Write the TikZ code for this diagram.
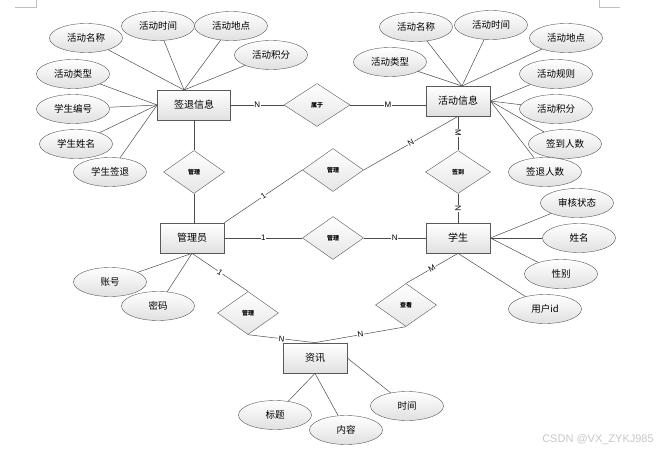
\documentclass[tikz,border=0pt]{standalone}
\usepackage{fontspec}
\newfontfamily\cjk{Noto Sans CJK SC}
\newfontfamily\wmfont{Liberation Sans}
\usetikzlibrary{shapes.geometric,shadows}

\tikzset{
  entity/.style={rectangle, draw=black!65, line width=0.7pt, top color=white, bottom color=black!12,
    minimum width=64pt, minimum height=30pt, inner sep=1pt, font=\cjk\fontsize{10}{12}\selectfont,
    drop shadow={shadow xshift=0.7pt, shadow yshift=-0.7pt, fill=black!45, opacity=0.6}},
  attr/.style={ellipse, draw=black!65, top color=white, bottom color=black!12,
    minimum width=73pt, minimum height=29pt, inner sep=0pt, font=\cjk\fontsize{9.5}{11}\selectfont},
  rel/.style={diamond, draw=black!65, top color=white, bottom color=black!10,
    minimum width=61pt, minimum height=43pt, inner sep=0pt, font=\cjk\bfseries\fontsize{6}{7}\selectfont},
  card/.style={fill=white, inner sep=0.6pt, font=\wmfont\fontsize{8}{9}\selectfont},
  conn/.style={draw=black!70, line width=0.5pt},
}

\begin{document}
\begin{tikzpicture}[x=1pt, y=-1pt]
    \useasboundingbox (0,0) rectangle (664,452);

    % Page corner marks
    \draw[black!25] (15,7) -- (36,7) -- (36,0);
    \draw[black!25] (599,0) -- (599,7) -- (620,7);

    % Entities
    \node[entity, minimum width=73pt] (qt) at (194,105) {签退信息};
    \node[entity] (hd) at (458,101) {活动信息};
    \node[entity] (gly) at (192,238) {管理员};
    \node[entity] (xs) at (458,238) {学生};
    \node[entity] (zx) at (315,358) {资讯};

    % Relations
    \node[rel, minimum width=66pt] (sy) at (317,105) {属于};
    \node[rel] (gl1) at (194,172) {管理};
    \node[rel] (gl2) at (333,170) {管理};
    \node[rel] (gl3) at (333,238) {管理};
    \node[rel] (gl4) at (248,313) {管理};
    \node[rel, minimum width=65pt] (qd) at (458,172) {签到};
    \node[rel] (ck) at (406,305) {查看};

    % Attributes of 签退信息
    \node[attr] (qt1) at (86,38) {活动名称};
    \node[attr] (qt2) at (158,26) {活动时间};
    \node[attr] (qt3) at (231,26) {活动地点};
    \node[attr] (qt4) at (271,55) {活动积分};
    \node[attr] (qt5) at (73,74) {活动类型};
    \node[attr] (qt6) at (73,109) {学生编号};
    \node[attr] (qt7) at (76,144) {学生姓名};
    \node[attr] (qt8) at (110,172) {学生签退};
    \coordinate (qtN) at (184,90);

    % Attributes of 活动信息
    \node[attr] (hd1) at (416,27) {活动名称};
    \node[attr] (hd2) at (491,25) {活动时间};
    \node[attr] (hd3) at (566,38) {活动地点};
    \node[attr] (hd4) at (390,62) {活动类型};
    \node[attr] (hd5) at (556,74) {活动规则};
    \node[attr] (hd6) at (556,109) {活动积分};
    \node[attr] (hd7) at (565,144) {签到人数};
    \node[attr] (hd8) at (545,172) {签退人数};
    \coordinate (hdN) at (462,86);

    % Attributes of 管理员, 学生 and 资讯
    \node[attr] (gly1) at (110,282) {账号};
    \node[attr] (gly2) at (158,306) {密码};
    \node[attr] (xs1) at (577,203) {审核状态};
    \node[attr] (xs2) at (579,238) {姓名};
    \node[attr] (xs3) at (561,274) {性别};
    \node[attr] (xs4) at (545,309) {用户id};
    \node[attr] (zx1) at (275,415) {标题};
    \node[attr] (zx2) at (346,430) {内容};
    \node[attr] (zx3) at (407,406) {时间};

    % Attribute lines
    \draw[conn] (qt1) -- (qtN);
    \draw[conn] (qt2) -- (qtN);
    \draw[conn] (qt3) -- (qtN);
    \draw[conn] (qt4) -- (qtN);
    \draw[conn] (qt5) -- (qt.west);
    \draw[conn] (qt6) -- (qt.west);
    \draw[conn] (qt7) -- (qt.west);
    \draw[conn] (qt8) -- (qt.west);
    \draw[conn] (hd1) -- (hdN);
    \draw[conn] (hd2) -- (hdN);
    \draw[conn] (hd3) -- (hdN);
    \draw[conn] (hd4) -- (hdN);
    \draw[conn] (hd5) -- (hd.east);
    \draw[conn] (hd6) -- (hd.east);
    \draw[conn] (hd7) -- (hd.east);
    \draw[conn] (hd8) -- (hd.east);
    \draw[conn] (gly1) -- (gly.south);
    \draw[conn] (gly2) -- (gly.south);
    \draw[conn] (xs1) -- (xs.east);
    \draw[conn] (xs2) -- (xs.east);
    \draw[conn] (xs3) -- (xs.east);
    \draw[conn] (xs4) -- (xs.south);
    \draw[conn] (zx1) -- (zx.south);
    \draw[conn] (zx2) -- (zx.south);
    \draw[conn] (zx3) -- (zx.east);

    % Relationship lines
    \draw[conn] (qt) -- node[card] {N} (sy);
    \draw[conn] (sy.east) -- node[card] {M} (sy.east -| hd.west);
    \draw[conn] (qt) -- (gl1);
    \draw[conn] (gl1) -- (gl1 |- gly.north);
    \draw[conn] (gly.north east) -- node[card, sloped] {1} (gl2.west);
    \draw[conn] (gl2.east) -- node[card, sloped] {N} (hd.south);
    \draw[conn] (gly) -- node[card] {1} (gl3);
    \draw[conn] (gl3) -- node[card] {N} (xs);
    \draw[conn] (hd) -- node[card, sloped] {M} (qd);
    \draw[conn] (qd) -- node[card, sloped] {N} (xs);
    \draw[conn] (gly.south) -- node[card, sloped] {1} (gl4.north);
    \draw[conn] (gl4.south) -- node[card, sloped] {N} (zx.north);
    \draw[conn] (zx.north) -- node[card, sloped] {N} (ck.south);
    \draw[conn] (ck.north) -- node[card, sloped] {M} (xs.south);

    % Watermark
    \node[text=black!22, font=\wmfont\fontsize{11}{13}\selectfont] (wm) at (598,440) {CSDN @VX\_ZYKJ985};
\end{tikzpicture}
\end{document}
